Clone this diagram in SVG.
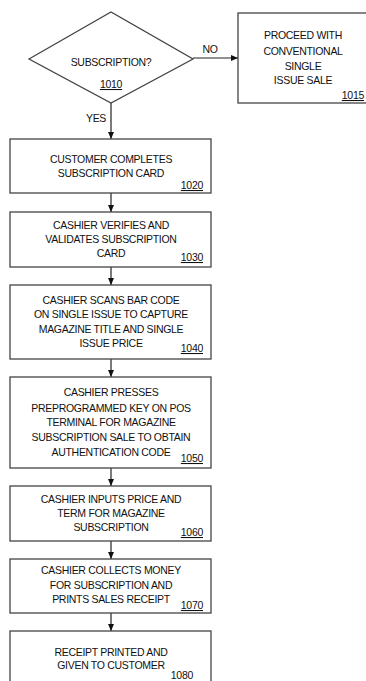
<svg xmlns="http://www.w3.org/2000/svg" width="366" height="681" viewBox="0 0 366 681">
<defs>
<marker id="ah" markerWidth="8" markerHeight="8" refX="7" refY="4" orient="auto" markerUnits="userSpaceOnUse">
<path d="M0,1 L7,4 L0,7 Z" fill="#111"/>
</marker>
<style>
.box{fill:#fff;stroke:#444;stroke-width:1.3}
.t{font-family:"Liberation Sans",Arial,sans-serif;font-size:10.5px;letter-spacing:-0.3px;fill:#111;text-anchor:middle}
.n{font-family:"Liberation Sans",Arial,sans-serif;font-size:10.5px;letter-spacing:-0.3px;fill:#111;text-anchor:end;text-decoration:underline}
.c{stroke:#222;stroke-width:1.2;fill:none}
</style>
</defs>
<rect width="366" height="681" fill="#fff"/>
<g id="connectors">
<line class="c" x1="193" y1="58" x2="238" y2="58" marker-end="url(#ah)"/>
<line class="c" x1="111" y1="103" x2="111" y2="139" marker-end="url(#ah)"/>
<line class="c" x1="111" y1="193" x2="111" y2="212" marker-end="url(#ah)"/>
<line class="c" x1="111" y1="267" x2="111" y2="285" marker-end="url(#ah)"/>
<line class="c" x1="111" y1="359" x2="111" y2="377" marker-end="url(#ah)"/>
<line class="c" x1="111" y1="468" x2="111" y2="486" marker-end="url(#ah)"/>
<line class="c" x1="111" y1="541" x2="111" y2="559" marker-end="url(#ah)"/>
<line class="c" x1="111" y1="613" x2="111" y2="631" marker-end="url(#ah)"/>
<text class="t" x="210" y="53">NO</text>
<text class="t" x="96" y="122">YES</text>
</g>
<g id="n1010">
<path class="box" d="M29,59 L111,12 L193,59 L111,103 Z"/>
<text class="t" x="111" y="66">SUBSCRIPTION?</text>
<text class="t" x="111" y="88" style="text-decoration:underline">1010</text>
</g>
<g id="n1015">
<rect class="box" x="238" y="13" width="140" height="90"/>
<text class="t" x="303" y="39">PROCEED WITH</text>
<text class="t" x="303" y="55">CONVENTIONAL</text>
<text class="t" x="303" y="70">SINGLE</text>
<text class="t" x="303" y="84">ISSUE SALE</text>
<text class="n" x="364" y="99">1015</text>
</g>
<g id="n1020">
<rect class="box" x="10" y="139" width="201" height="54"/>
<text class="t" x="111" y="163">CUSTOMER COMPLETES</text>
<text class="t" x="111" y="177">SUBSCRIPTION CARD</text>
<text class="n" x="203" y="189">1020</text>
</g>
<g id="n1030">
<rect class="box" x="10" y="212" width="201" height="55"/>
<text class="t" x="111" y="229">CASHIER VERIFIES AND</text>
<text class="t" x="111" y="243">VALIDATES SUBSCRIPTION</text>
<text class="t" x="111" y="257">CARD</text>
<text class="n" x="203" y="261">1030</text>
</g>
<g id="n1040">
<rect class="box" x="10" y="285" width="201" height="74"/>
<text class="t" x="111" y="304">CASHIER SCANS BAR CODE</text>
<text class="t" x="111" y="318">ON SINGLE ISSUE TO CAPTURE</text>
<text class="t" x="111" y="333">MAGAZINE TITLE AND SINGLE</text>
<text class="t" x="111" y="347">ISSUE PRICE</text>
<text class="n" x="203" y="352">1040</text>
</g>
<g id="n1050">
<rect class="box" x="10" y="377" width="201" height="91"/>
<text class="t" x="111" y="396">CASHIER PRESSES</text>
<text class="t" x="111" y="412">PREPROGRAMMED KEY ON POS</text>
<text class="t" x="111" y="426">TERMINAL FOR MAGAZINE</text>
<text class="t" x="111" y="441">SUBSCRIPTION SALE TO OBTAIN</text>
<text class="t" x="111" y="456">AUTHENTICATION CODE</text>
<text class="n" x="203" y="462">1050</text>
</g>
<g id="n1060">
<rect class="box" x="10" y="486" width="201" height="55"/>
<text class="t" x="111" y="503">CASHIER INPUTS PRICE AND</text>
<text class="t" x="111" y="517">TERM FOR MAGAZINE</text>
<text class="t" x="111" y="531">SUBSCRIPTION</text>
<text class="n" x="203" y="536">1060</text>
</g>
<g id="n1070">
<rect class="box" x="10" y="559" width="201" height="54"/>
<text class="t" x="111" y="574">CASHIER COLLECTS MONEY</text>
<text class="t" x="111" y="589">FOR SUBSCRIPTION AND</text>
<text class="t" x="111" y="603">PRINTS SALES RECEIPT</text>
<text class="n" x="203" y="609">1070</text>
</g>
<g id="n1080">
<rect class="box" x="10" y="631" width="201" height="70"/>
<text class="t" x="111" y="656">RECEIPT PRINTED AND</text>
<text class="t" x="111" y="669">GIVEN TO CUSTOMER</text>
<text class="t" x="193" y="679" style="text-anchor:end">1080</text>
</g>
</svg>
